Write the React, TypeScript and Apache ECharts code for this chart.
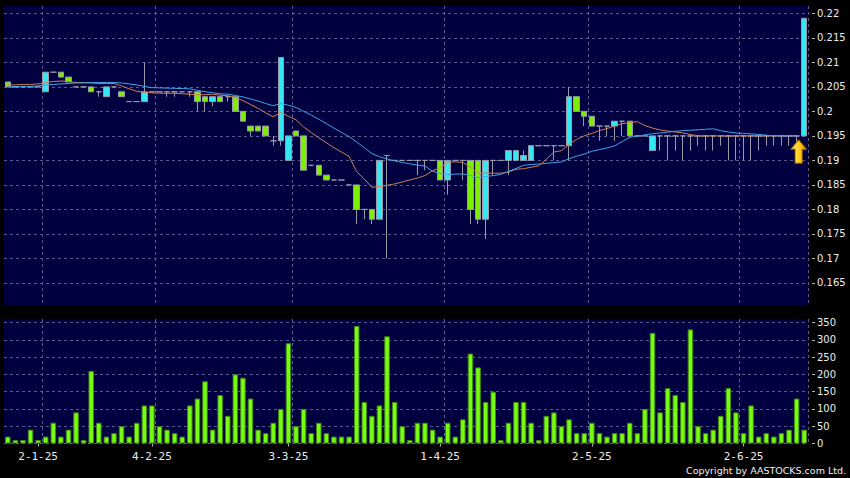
import React, { useEffect, useRef } from 'react';
import * as echarts from 'echarts';

// x-axis labels (category index -> text) and vertical grid positions
const tickIndex = [4, 19, 37, 57, 77, 97];
const tickLabels = ['2-1-25', '4-2-25', '3-3-25', '1-4-25', '2-5-25', '2-6-25'];
const gridIndex = [5, 20, 38, 58, 77, 97];

const priceTicks = [0.165, 0.17, 0.175, 0.18, 0.185, 0.19, 0.195, 0.2, 0.205, 0.21, 0.215, 0.22];
const volumeTicks = [0, 50, 100, 150, 200, 250, 300, 350];

const openP = [
  0.206, 0.205, 0.205, 0.205, 0.205, 0.204, 0.208, 0.208, 0.207, 0.205,
  0.205, 0.205, 0.204, 0.203, 0.205, 0.204, 0.202, 0.202, 0.202, 0.204,
  0.204, 0.204, 0.204, 0.204, 0.204, 0.204, 0.203, 0.202, 0.203, 0.203,
  0.203, 0.200, 0.197, 0.197, 0.197, 0.194, 0.194, 0.190, 0.196, 0.195,
  0.189, 0.189, 0.187, 0.186, 0.186, 0.185, 0.185, 0.180, 0.180, 0.178,
  0.191, 0.190, 0.190, 0.190, 0.190, 0.190, 0.190, 0.190, 0.186, 0.190,
  0.190, 0.190, 0.190, 0.178, 0.190, 0.190, 0.190, 0.190, 0.190, 0.190,
  0.193, 0.193, 0.193, 0.193, 0.193, 0.203, 0.200, 0.199, 0.197, 0.197,
  0.197, 0.198, 0.198, 0.195, 0.195, 0.192, 0.195, 0.195, 0.195, 0.195,
  0.195, 0.195, 0.195, 0.195, 0.195, 0.195, 0.195, 0.195, 0.195, 0.195,
  0.195, 0.195, 0.195, 0.195, 0.195, 0.195,
];
const closeP = [
  0.205, 0.205, 0.205, 0.205, 0.205, 0.208, 0.208, 0.207, 0.206, 0.205,
  0.205, 0.204, 0.204, 0.205, 0.205, 0.203, 0.202, 0.202, 0.204, 0.204,
  0.204, 0.204, 0.204, 0.204, 0.204, 0.202, 0.202, 0.203, 0.202, 0.203,
  0.200, 0.198, 0.196, 0.196, 0.195, 0.194, 0.211, 0.195, 0.195, 0.188,
  0.189, 0.187, 0.186, 0.186, 0.186, 0.185, 0.180, 0.180, 0.178, 0.190,
  0.191, 0.190, 0.190, 0.190, 0.190, 0.190, 0.190, 0.186, 0.190, 0.190,
  0.190, 0.180, 0.178, 0.190, 0.190, 0.190, 0.192, 0.192, 0.191, 0.193,
  0.193, 0.193, 0.193, 0.193, 0.203, 0.200, 0.199, 0.197, 0.197, 0.197,
  0.198, 0.198, 0.195, 0.195, 0.195, 0.195, 0.195, 0.195, 0.195, 0.195,
  0.195, 0.195, 0.195, 0.195, 0.195, 0.195, 0.195, 0.195, 0.195, 0.195,
  0.195, 0.195, 0.195, 0.195, 0.195, 0.219,
];
const lowP = [
  0.205, 0.205, 0.205, 0.205, 0.205, 0.204, 0.208, 0.207, 0.206, 0.205,
  0.205, 0.204, 0.203, 0.203, 0.205, 0.203, 0.202, 0.202, 0.202, 0.204,
  0.204, 0.203, 0.203, 0.204, 0.203, 0.200, 0.200, 0.201, 0.202, 0.202,
  0.200, 0.198, 0.195, 0.196, 0.195, 0.193, 0.193, 0.190, 0.195, 0.188,
  0.189, 0.187, 0.186, 0.186, 0.186, 0.185, 0.177, 0.178, 0.177, 0.178,
  0.170, 0.190, 0.190, 0.190, 0.187, 0.188, 0.190, 0.186, 0.183, 0.190,
  0.186, 0.177, 0.177, 0.174, 0.187, 0.190, 0.187, 0.190, 0.190, 0.190,
  0.193, 0.193, 0.190, 0.193, 0.190, 0.200, 0.197, 0.197, 0.194, 0.195,
  0.194, 0.195, 0.195, 0.195, 0.195, 0.192, 0.192, 0.190, 0.192, 0.190,
  0.192, 0.193, 0.192, 0.192, 0.193, 0.190, 0.190, 0.190, 0.190, 0.192,
  0.193, 0.193, 0.193, 0.193, 0.193, 0.195,
];
const highP = [
  0.206, 0.205, 0.205, 0.205, 0.205, 0.208, 0.208, 0.208, 0.207, 0.205,
  0.205, 0.205, 0.204, 0.205, 0.205, 0.204, 0.202, 0.202, 0.210, 0.204,
  0.204, 0.204, 0.204, 0.204, 0.204, 0.204, 0.203, 0.203, 0.203, 0.203,
  0.203, 0.200, 0.197, 0.197, 0.197, 0.195, 0.211, 0.195, 0.196, 0.195,
  0.189, 0.189, 0.187, 0.186, 0.186, 0.185, 0.185, 0.180, 0.180, 0.190,
  0.191, 0.190, 0.190, 0.190, 0.190, 0.190, 0.190, 0.190, 0.190, 0.190,
  0.190, 0.190, 0.190, 0.190, 0.190, 0.190, 0.192, 0.192, 0.192, 0.193,
  0.193, 0.193, 0.193, 0.193, 0.205, 0.203, 0.200, 0.199, 0.197, 0.197,
  0.198, 0.198, 0.198, 0.195, 0.195, 0.195, 0.195, 0.195, 0.195, 0.195,
  0.195, 0.195, 0.195, 0.195, 0.195, 0.195, 0.195, 0.195, 0.195, 0.195,
  0.195, 0.195, 0.195, 0.195, 0.195, 0.219,
];

const volume = [
  20, 10, 10, 40, 10, 20, 60, 20, 40, 90,
  10, 210, 60, 20, 30, 50, 20, 60, 110, 110,
  50, 40, 30, 20, 110, 130, 180, 40, 140, 80,
  200, 190, 130, 40, 30, 60, 100, 290, 50, 100,
  30, 60, 30, 20, 20, 20, 340, 120, 80, 110,
  310, 120, 50, 10, 60, 60, 40, 20, 60, 20,
  70, 260, 220, 120, 150, 10, 60, 120, 120, 60,
  10, 80, 90, 50, 70, 30, 30, 60, 30, 20,
  30, 30, 60, 30, 100, 320, 90, 160, 140, 120,
  330, 50, 30, 40, 80, 160, 90, 30, 110, 20,
  30, 20, 30, 40, 130, 40,
];

// 10-day (orange) and 20-day (blue) moving averages
const ma10 = [
  0.2054, 0.2054, 0.2055, 0.2055, 0.2056, 0.2059, 0.2061, 0.2062, 0.2061, 0.2059,
  0.2059, 0.2058, 0.2057, 0.2057, 0.2057, 0.2052, 0.2046, 0.2041, 0.2039, 0.2038,
  0.2037, 0.2037, 0.2037, 0.2036, 0.2035, 0.2034, 0.2034, 0.2035, 0.2033, 0.2032,
  0.2028, 0.2022, 0.2014, 0.2006, 0.1997, 0.1989, 0.1998, 0.1990, 0.1983, 0.1968,
  0.1957, 0.1946, 0.1936, 0.1926, 0.1917, 0.1908, 0.1877, 0.1862, 0.1845, 0.1847,
  0.1849, 0.1852, 0.1856, 0.1860, 0.1864, 0.1869, 0.1879, 0.1885, 0.1897, 0.1897,
  0.1896, 0.1886, 0.1874, 0.1874, 0.1874, 0.1874, 0.1876, 0.1882, 0.1883, 0.1886,
  0.1889, 0.1902, 0.1917, 0.1920, 0.1933, 0.1943, 0.1950, 0.1955, 0.1961, 0.1965,
  0.1970, 0.1975, 0.1977, 0.1979, 0.1971, 0.1966, 0.1962, 0.1960, 0.1958, 0.1956,
  0.1953, 0.1950, 0.1950, 0.1950, 0.1950, 0.1950, 0.1950, 0.1950, 0.1950, 0.1950,
  0.1950, 0.1950, 0.1950, 0.1950, 0.1950, null,
];
const ma20 = [
  0.2050, 0.2050, 0.2051, 0.2051, 0.2052, 0.2054, 0.2055, 0.2056, 0.2057, 0.2058,
  0.2058, 0.2059, 0.2059, 0.2059, 0.2059, 0.2058, 0.2056, 0.2054, 0.2051, 0.20485,
  0.2048, 0.20475, 0.2047, 0.20465, 0.2046, 0.2043, 0.2040, 0.2038, 0.2036, 0.2035,
  0.20325, 0.20295, 0.20255, 0.2021, 0.2016, 0.20115, 0.2016, 0.20125, 0.2008, 0.2000,
  0.19925, 0.1984, 0.1975, 0.1966, 0.1957, 0.19485, 0.19375, 0.1926, 0.1914, 0.19075,
  0.1903, 0.1899, 0.1896, 0.1893, 0.18905, 0.18885, 0.1878, 0.18735, 0.1871, 0.1872,
  0.18725, 0.1869, 0.1865, 0.1867, 0.1869, 0.18715, 0.18775, 0.18835, 0.1890, 0.18915,
  0.18925, 0.1894, 0.18955, 0.1897, 0.19035, 0.19085, 0.1913, 0.19185, 0.1922, 0.19255,
  0.19295, 0.19385, 0.1947, 0.19495, 0.1952, 0.19545, 0.1956, 0.19575, 0.19595, 0.19605,
  0.19615, 0.19625, 0.19635, 0.19645, 0.19605, 0.1958, 0.1956, 0.1955, 0.1954, 0.1953,
  0.19515, 0.1950, 0.1950, 0.1950, 0.1950, null,
];

const arrowIndex = 104;
const arrowPrice = 0.1918;

export default function App() {
  const ref = useRef<HTMLDivElement>(null);

  useEffect(() => {
    if (!ref.current) return;
    const chart = echarts.init(ref.current, undefined, { renderer: 'svg' });
    const categories = openP.map((_, i) => 'd' + i);
    const candles = openP.map((o, i) => [o, closeP[i], lowP[i], highP[i]]);
    const gridLine = { color: '#5a5a8e', type: [3, 3] as number[], width: 1 };
    const labelColor = '#ececec';
    const tickColor = '#b0b0b0';
    const isLabel = (i: number) => tickIndex.indexOf(i) >= 0;
    const isGrid = (i: number) => gridIndex.indexOf(i) >= 0;

    chart.setOption({
      animation: false,
      backgroundColor: '#000000',
      grid: [
        { left: 4, top: 6, width: 804, height: 299, show: true, backgroundColor: '#000040', borderWidth: 0 },
        { left: 4, top: 319, width: 804, height: 124.5, show: true, backgroundColor: '#000040', borderWidth: 0 },
      ],
      xAxis: [
        {
          type: 'category', gridIndex: 0, data: categories, boundaryGap: true,
          axisLine: { show: false }, axisTick: { show: false }, axisLabel: { show: false },
          splitLine: { show: true, interval: (i: number) => isGrid(i), lineStyle: gridLine },
        },
        {
          type: 'category', gridIndex: 1, data: categories, boundaryGap: true, offset: 2,
          axisLine: { show: false },
          axisTick: { show: true, alignWithLabel: true, interval: (i: number) => isLabel(i), length: 3, lineStyle: { color: tickColor } },
          axisLabel: {
            interval: (i: number) => isLabel(i),
            formatter: (_v: string, idx: number) => {
              const k = tickIndex.indexOf(idx);
              return k >= 0 ? tickLabels[k] : '';
            },
            color: labelColor, fontFamily: 'DejaVu Sans Mono', fontSize: 11, margin: 5,
          },
          splitLine: { show: true, interval: (i: number) => isGrid(i), lineStyle: gridLine },
        },
      ],
      yAxis: [
        {
          type: 'value', gridIndex: 0, position: 'right', min: 0.1605, max: 0.2215, splitNumber: 12, offset: 4,
          axisLine: { show: false },
          axisTick: { show: true, length: 3, customValues: priceTicks, lineStyle: { color: tickColor } },
          axisLabel: {
            customValues: priceTicks, color: labelColor, fontFamily: 'DejaVu Sans', fontSize: 10, margin: 5,
            formatter: (v: number) => String(parseFloat(v.toFixed(4))),
          },
          splitLine: { show: true, lineStyle: gridLine },
        },
        {
          type: 'value', gridIndex: 1, position: 'right', min: 0, max: 360, interval: 50, offset: 4,
          axisLine: { show: false },
          axisTick: { show: true, length: 3, customValues: volumeTicks, lineStyle: { color: tickColor } },
          axisLabel: {
            customValues: volumeTicks, color: labelColor, fontFamily: 'DejaVu Sans', fontSize: 10, margin: 5,
          },
          splitLine: { show: true, lineStyle: gridLine },
        },
      ],
      series: [
        {
          type: 'candlestick', xAxisIndex: 0, yAxisIndex: 0, data: candles, barWidth: 6,
          itemStyle: {
            color: '#33e8f2', color0: '#7cf000',
            borderColor: '#9a9aa8', borderColor0: '#9a9aa8', borderColorDoji: '#9a9aa8', borderWidth: 1,
          },
          markPoint: {
            silent: true,
            symbol: 'path://M7.5,0L15,9L11,9L11,23L4,23L4,9L0,9Z',
            symbolSize: [15, 23],
            symbolOffset: [2, 0],
            label: { show: false },
            itemStyle: {
              color: new echarts.graphic.LinearGradient(0, 0, 1, 0, [
                { offset: 0, color: '#fff07a' },
                { offset: 0.5, color: '#ffd21f' },
                { offset: 1, color: '#e09a00' },
              ]),
              borderColor: '#b87a00', borderWidth: 1,
            },
            data: [{ coord: [arrowIndex, arrowPrice] }],
          },
          z: 2,
        },
        {
          type: 'line', name: 'MA10', xAxisIndex: 0, yAxisIndex: 0, data: ma10, symbol: 'none',
          lineStyle: { color: '#cf7f55', width: 1 }, z: 3,
        },
        {
          type: 'line', name: 'MA20', xAxisIndex: 0, yAxisIndex: 0, data: ma20, symbol: 'none',
          lineStyle: { color: '#3fa4e8', width: 1 }, z: 3,
        },
        {
          type: 'bar', xAxisIndex: 1, yAxisIndex: 1, data: volume, barWidth: 5.5,
          itemStyle: { color: '#77fc12', borderColor: '#3f8a10', borderWidth: 1 },
        },
      ],
      graphic: [
        {
          type: 'text', right: 4, top: 465,
          style: { text: 'Copyright by AASTOCKS.com Ltd.', fill: '#f0f0f0', font: '9.5px "DejaVu Sans"' },
        },
      ],
    });
    return () => chart.dispose();
  }, []);

  return <div ref={ref} style={{ position: 'fixed', left: 0, top: 0, width: 850, height: 478 }} />;
}
